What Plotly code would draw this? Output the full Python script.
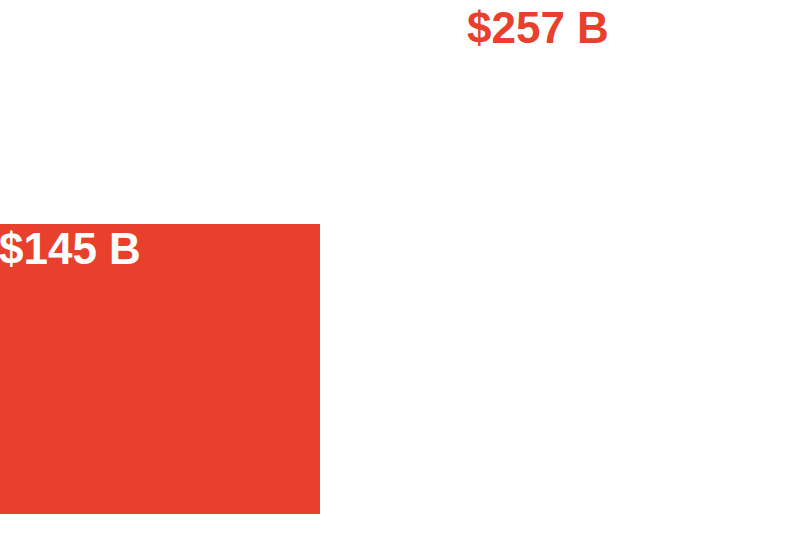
import plotly.graph_objects as go

categories = ["Before", "After"]
values = [145, 257]
labels = ["$145 B", "$257 B"]

RED = "#E8402C"
bar_colors = [RED, "#FFFFFF"]
label_colors = ["#FFFFFF", RED]

bar_width = 0.6838
half = bar_width / 2

fig = go.Figure(go.Bar(
    x=list(range(len(categories))),
    y=values,
    width=bar_width,
    marker=dict(color=bar_colors, line=dict(width=0)),
    hoverinfo="skip",
))

for i, (v, lab, col) in enumerate(zip(values, labels, label_colors)):
    fig.add_annotation(
        x=i - half, y=v, xref="x", yref="y",
        text=f"<b>{lab}</b>", showarrow=False,
        xanchor="left", yanchor="top", xshift=-3, yshift=2 if i == 0 else -1,
        font=dict(family="Liberation Sans, Arial, Helvetica, sans-serif", size=44, color=col),
    )

fig.update_layout(
    width=788, height=546,
    margin=dict(l=0, r=0, t=0, b=32, autoexpand=False),
    paper_bgcolor="white", plot_bgcolor="white",
    showlegend=False,
    xaxis=dict(range=[-half, 1 + half], visible=False, fixedrange=True),
    yaxis=dict(range=[0, 257], visible=False, fixedrange=True),
)

fig.write_html("out.html", config={"displayModeBar": False},
               post_script="document.body.style.margin='0';")
